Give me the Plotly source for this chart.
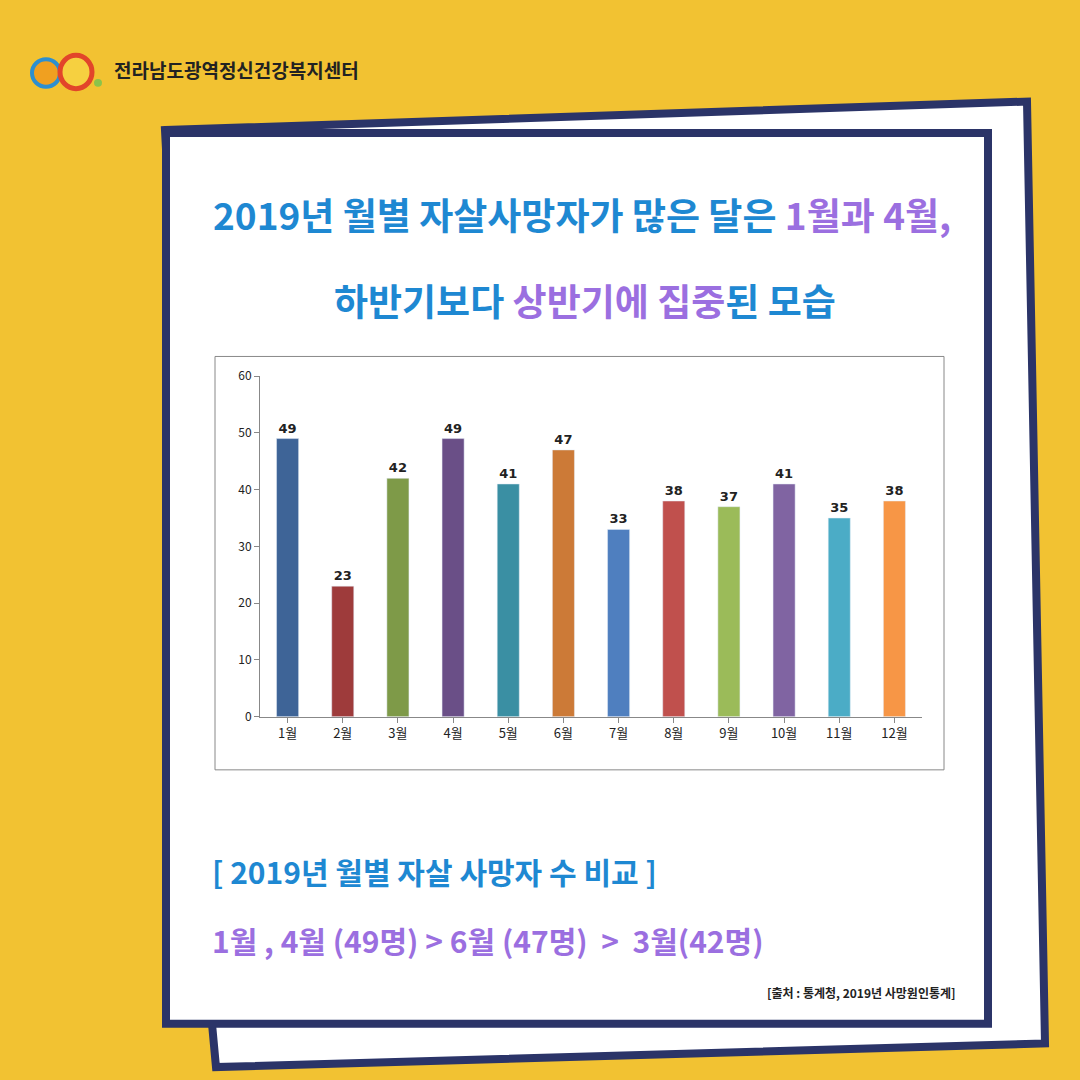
import plotly.graph_objects as go

months = ["1월","2월","3월","4월","5월","6월","7월","8월","9월","10월","11월","12월"]
deaths = [49,23,42,49,41,47,33,38,37,41,35,38]
colors = ["#3E6497","#9E3B3B","#7E9A48","#6A4F87","#3A8FA3","#CC7A37",
          "#4F7FBF","#C0504D","#9BBB59","#8064A2","#4BACC6","#F79646"]
yticks = [0,10,20,30,40,50,60]

W = 1080
def px(x): return x / W
def py(y): return 1 - y / W

fig = go.Figure(go.Bar(x=months, y=deaths, marker_color=colors, width=0.4,
                       text=[f"<b>{v}</b>" for v in deaths], textposition="outside",
                       textfont=dict(size=13, color="#222", family="DejaVu Sans"),
                       cliponaxis=False))

shapes = [
    dict(type="path", xref="paper", yref="paper",
         path=f"M {px(165)},{py(122)} L {px(1027)},{py(93)} L {px(1045)},{py(1050)} L {px(216)},{py(1074)} L {px(212)},{py(1030)} Z",
         fillcolor="white", line=dict(color="#2B3468", width=8), layer="below"),
    dict(type="rect", xref="paper", yref="paper", x0=px(166), x1=px(988), y0=py(125), y1=py(1030),
         fillcolor="white", line=dict(color="#2B3468", width=8), layer="below"),
    dict(type="rect", xref="paper", yref="paper", x0=px(215), x1=px(944), y0=py(352), y1=py(772),
         fillcolor="white", line=dict(color="#888", width=1), layer="below"),
    dict(type="circle", xref="paper", yref="paper", x0=px(32), x1=px(60), y0=py(78), y1=py(50),
         fillcolor="#F0A020", line=dict(color="#2D8FD0", width=4)),
    dict(type="circle", xref="paper", yref="paper", x0=px(60), x1=px(92), y0=py(80), y1=py(46),
         fillcolor="#F6D040", line=dict(color="#E2452A", width=5)),
    dict(type="circle", xref="paper", yref="paper", x0=px(94), x1=px(102), y0=py(78), y1=py(70),
         fillcolor="#8BC34A", line=dict(width=0)),
]

B = "#1E88D2"; P = "#9B6FE0"
ann = [
    dict(x=px(112), y=py(60), text="<b>전라남도광역정신건강복지센터</b>", xanchor="left",
         font=dict(size=19, color="#222")),
    dict(x=px(582), y=py(207), text=f"<b><span style='color:{B}'>2019년 월별 자살사망자가 많은 달은 </span><span style='color:{P}'>1월과 4월,</span></b>",
         font=dict(size=37)),
    dict(x=px(585), y=py(295), text=f"<b><span style='color:{B}'>하반기보다 </span><span style='color:{P}'>상반기에 집중</span><span style='color:{B}'>된 모습</span></b>",
         font=dict(size=37)),
    dict(x=px(210), y=py(875), text="<b>[ 2019년 월별 자살 사망자 수 비교 ]</b>", xanchor="left",
         font=dict(size=30, color=B)),
    dict(x=px(210), y=py(945), text="<b>1월 , 4월 (49명) > 6월 (47명)  >  3월(42명)</b>", xanchor="left",
         font=dict(size=30, color=P)),
    dict(x=px(958), y=py(998), text="<b>[출처 : 통계청, 2019년 사망원인통계]</b>", xanchor="right",
         font=dict(size=12, color="#222")),
]
for a in ann:
    a.update(xref="paper", yref="paper", showarrow=False, yanchor="middle")
    a["font"].setdefault("family", "Noto Sans CJK KR")

fig.update_layout(
    width=1080, height=1080, margin=dict(l=0, r=0, t=0, b=0),
    paper_bgcolor="#F2C232", plot_bgcolor="white",
    shapes=shapes, annotations=ann, showlegend=False,
    font=dict(family="Noto Sans CJK KR"),
    xaxis=dict(domain=[px(260), px(922)], showline=True, linecolor="#888", ticks="outside",
               tickcolor="#888", tickfont=dict(size=13, color="#222")),
    yaxis=dict(domain=[py(718), py(372)], range=[0, 60], tickvals=yticks, showline=True,
               linecolor="#888", ticks="outside", tickcolor="#888", showgrid=False, zeroline=False,
               tickfont=dict(size=12, color="#222")),
)
fig.write_html("out.html", config={"displayModeBar": False},
               post_script="document.body.style.margin='0';document.body.style.overflow='hidden';")
